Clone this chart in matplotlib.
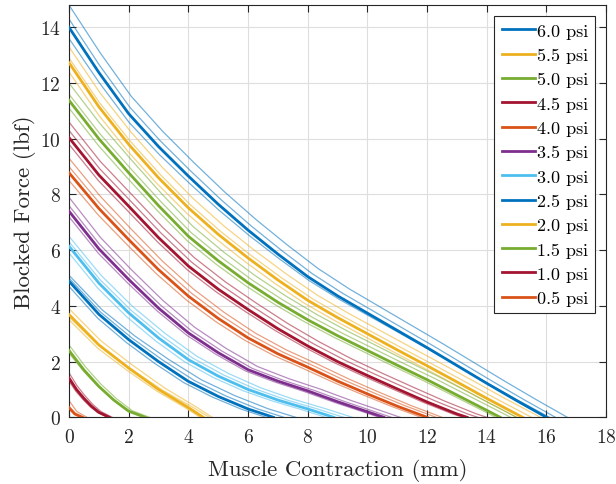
import matplotlib
matplotlib.use("Agg")
import matplotlib.pyplot as plt
import numpy as np

plt.rcParams['font.family'] = ['cmr10', 'DejaVu Serif']
plt.rcParams['mathtext.fontset'] = 'cm'
plt.rcParams['axes.formatter.use_mathtext'] = True

# ---- data ----
labels = ["6.0 psi", "5.5 psi", "5.0 psi", "4.5 psi", "4.0 psi", "3.5 psi",
          "3.0 psi", "2.5 psi", "2.0 psi", "1.5 psi", "1.0 psi", "0.5 psi"]

x_60 = [0, 1, 2, 3, 4, 5, 6, 7, 8, 9, 10, 11, 12, 13, 14, 15, 16.0]
f_60 = [14.0, 12.38, 10.9, 9.72, 8.66, 7.65, 6.72, 5.86, 5.05, 4.36, 3.74, 3.12, 2.5, 1.86, 1.22, 0.6, 0]
x_55 = [0, 1, 2, 3, 4, 5, 6, 7, 8, 9, 10, 11, 12, 13, 14, 15.2]
f_55 = [12.73, 11.15, 9.8, 8.6, 7.52, 6.57, 5.72, 4.93, 4.2, 3.58, 3.0, 2.42, 1.85, 1.27, 0.68, 0]
x_50 = [0, 1, 2, 3, 4, 5, 6, 7, 8, 9, 10, 11, 12, 13, 14, 14.45]
f_50 = [11.38, 10.0, 8.78, 7.6, 6.5, 5.62, 4.83, 4.13, 3.5, 2.93, 2.4, 1.87, 1.35, 0.8, 0.25, 0]
x_45 = [0, 1, 2, 3, 4, 5, 6, 7, 8, 9, 10, 11, 12, 13, 13.34]
f_45 = [10.04, 8.7, 7.58, 6.45, 5.43, 4.6, 3.87, 3.18, 2.56, 2.0, 1.5, 1.02, 0.55, 0.12, 0]
x_40 = [0, 1, 2, 3, 4, 5, 6, 7, 8, 9, 10, 11, 12.0]
f_40 = [8.78, 7.5, 6.38, 5.3, 4.35, 3.55, 2.85, 2.28, 1.8, 1.3, 0.84, 0.4, 0]
x_35 = [0, 1, 2, 3, 4, 5, 6, 7, 8, 9, 10, 10.55]
f_35 = [7.4, 6.05, 4.95, 3.92, 3.03, 2.32, 1.71, 1.3, 0.95, 0.56, 0.2, 0]
x_30 = [0, 1, 2, 3, 4, 5, 6, 7, 8, 8.87]
f_30 = [6.14, 4.82, 3.75, 2.85, 2.07, 1.48, 1.0, 0.62, 0.3, 0]
x_25 = [0, 1, 2, 3, 4, 5, 6, 6.85]
f_25 = [4.89, 3.7, 2.79, 2.0, 1.29, 0.75, 0.3, 0]
x_20 = [0, 1, 2, 3, 4, 4.5]
f_20 = [3.69, 2.6, 1.77, 1.0, 0.35, 0]
x_15 = [0, 0.5, 1, 1.5, 2, 2.55]
f_15 = [2.4, 1.7, 1.11, 0.62, 0.22, 0]
x_10 = [0, 0.25, 0.5, 0.75, 1.0, 1.35]
f_10 = [1.41, 1.0, 0.68, 0.4, 0.18, 0]
x_05 = [0, 0.2, 0.45]
f_05 = [0.35, 0.12, 0]

mean_x = [x_60, x_55, x_50, x_45, x_40, x_35, x_30, x_25, x_20, x_15, x_10, x_05]
mean_f = [f_60, f_55, f_50, f_45, f_40, f_35, f_30, f_25, f_20, f_15, f_10, f_05]

# individual trials: (blocked force at x=0, contraction at zero force)
trials_60 = [(14.8, 16.7), (14.3, 16.3), (13.6, 16.1)]
trials_55 = [(13.3, 15.8), (12.9, 15.5), (12.4, 15.0)]
trials_50 = [(12.0, 15.0), (11.6, 14.8), (11.1, 14.3)]
trials_45 = [(10.6, 14.0), (10.3, 13.7), (9.8, 13.2)]
trials_40 = [(9.3, 12.5), (9.0, 12.3), (8.5, 11.8)]
trials_35 = [(7.9, 11.1), (7.6, 10.8), (7.2, 10.4)]
trials_30 = [(6.5, 9.5), (6.3, 9.2), (5.9, 8.6)]
trials_25 = [(5.1, 7.6), (5.0, 7.2), (4.7, 6.6)]
trials_20 = [(3.9, 4.8), (3.6, 4.7), (3.5, 4.4)]
trials_15 = [(2.6, 2.7), (2.3, 2.6)]
trials_10 = [(1.6, 1.45), (1.3, 1.3)]
trials_05 = [(0.6, 0.6), (0.3, 0.4)]
trials = [trials_60, trials_55, trials_50, trials_45, trials_40, trials_35,
          trials_30, trials_25, trials_20, trials_15, trials_10, trials_05]

blue = (0, 0.447, 0.741)
yellow = (0.929, 0.694, 0.125)
green = (0.466, 0.674, 0.188)
darkred = (0.635, 0.078, 0.184)
orange = (0.850, 0.325, 0.098)
purple = (0.494, 0.184, 0.556)
lightblue = (0.301, 0.745, 0.933)
colors = [blue, yellow, green, darkred, orange, purple, lightblue,
          blue, yellow, green, darkred, orange]

fig = plt.figure(figsize=(6.16, 4.85), dpi=100)
ax = fig.add_axes([0.112, 0.1375, 0.872, 0.85])

for xs, fs, tr, c in zip(mean_x, mean_f, trials, colors):
    xs = np.asarray(xs, float)
    fs = np.asarray(fs, float)
    for f0, xe in tr:
        ax.plot(xs * (xe / xs[-1]), fs * (f0 / fs[0]), color=c, lw=0.9, alpha=0.55,
                zorder=2)

handles = []
for xs, fs, c, lab in zip(mean_x, mean_f, colors, labels):
    h, = ax.plot(xs, fs, color=c, lw=2.0, label=lab, zorder=3)
    handles.append(h)

dark = (0.15, 0.15, 0.15)
ax.set_xlim(0, 18)
ax.set_ylim(0, 14.8)
ax.set_xticks(np.arange(0, 19, 2))
ax.set_yticks(np.arange(0, 15, 2))
ax.grid(True, color=(0.87, 0.87, 0.87), lw=0.8)
ax.set_axisbelow(True)
for s in ax.spines.values():
    s.set_color(dark)
    s.set_linewidth(0.8)
ax.tick_params(direction='in', top=True, right=True, length=5,
               colors=dark, labelsize=14, labelcolor=dark, pad=8)
ax.tick_params(axis='y', pad=6)
ax.set_xlabel("Muscle Contraction (mm)", fontsize=16.5, color=dark, labelpad=8)
ax.set_ylabel("Blocked Force (lbf)", fontsize=16.5, color=dark)
ax.yaxis.set_label_coords(-0.062, 0.5)

leg = ax.legend(handles=handles, loc='upper right', fontsize=13, fancybox=False,
                framealpha=1, edgecolor=dark, handlelength=1.85,
                handletextpad=0.1, labelspacing=0.48, borderpad=0.4,
                borderaxespad=0.6)
leg.get_frame().set_linewidth(0.8)

fig.savefig("out.png", dpi=100)
